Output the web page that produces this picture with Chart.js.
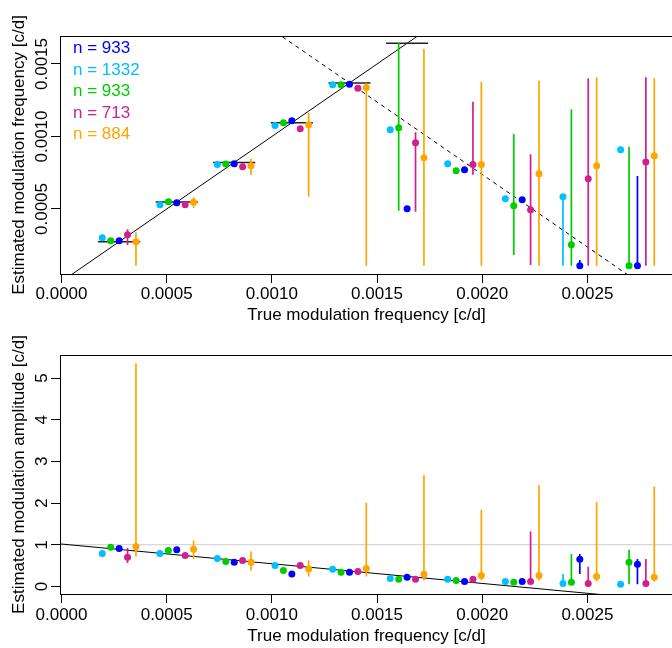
<!DOCTYPE html>
<html>
<head>
<meta charset="utf-8">
<script src="https://cdn.jsdelivr.net/npm/chart.js@4"></script>
<style>
  body { margin: 0; background: #fff; overflow: hidden; }
  canvas { display: block; }
</style>
</head>
<body>
<canvas id="freqChart" width="677" height="330"></canvas>
<canvas id="ampChart" width="677" height="318"></canvas>
<script>
// true modulation frequencies (10, 5, 3.3, 2.5 ... yr periods)
const trueFreq = [0.000274, 0.000548, 0.000821, 0.001095, 0.001369, 0.001643, 0.001916, 0.002190, 0.002464, 0.002738];
const sampleSizes = [933, 1332, 933, 713, 884];
const seriesColors = ['#0000ff', '#00bfff', '#00cd00', '#d02090', '#ffa500'];
const seriesOffset = [0, -0.00008, -0.00004, 0.00004, 0.00008];
const aliasSum = 0.002738;

const xTicks = [0, 0.0005, 0.0010, 0.0015, 0.0020, 0.0025];
const freqTicks = [0.0005, 0.0010, 0.0015];
const ampTicks = [0, 1, 2, 3, 4, 5];

// rows: blue, cyan, green, magenta, orange
const freqEst = [
  [0.000281, 0.000543, 0.000812, 0.001109, 0.001360, 0.000502, 0.000771, 0.000564, 0.000109, 0.000109],
  [0.000302, 0.000530, 0.000806, 0.001075, 0.001357, 0.001047, 0.000812, 0.000571, 0.000585, 0.000909],
  [0.000281, 0.000550, 0.000810, 0.001095, 0.001357, 0.001061, 0.000764, 0.000523, 0.000253, 0.000109],
  [0.000323, 0.000530, 0.000792, 0.001054, 0.001332, 0.000957, 0.000806, 0.000495, 0.000709, 0.000824],
  [0.000274, 0.000546, 0.000799, 0.001081, 0.001337, 0.000854, 0.000806, 0.000743, 0.000799, 0.000868]
];
const freqLo = [
  [null, null, null, null, null, null, null, null, 0.000109, 0.000109],
  [null, null, null, null, null, null, null, null, 0.000109, 0.000890],
  [null, null, null, null, null, 0.000488, 0.000750, 0.000183, 0.000109, 0.000109],
  [0.000252, null, null, null, null, 0.000481, 0.000737, 0.000114, 0.000109, 0.000109],
  [0.000109, 0.000506, 0.000734, 0.000585, 0.000109, 0.000109, 0.000109, 0.000109, 0.000109, 0.000109]
];
const freqHi = [
  [null, null, null, null, null, null, null, null, 0.000148, 0.000728],
  [null, null, null, null, null, null, null, null, 0.000585, 0.000930],
  [null, null, null, null, null, 0.001643, 0.000780, 0.001017, 0.001188, 0.000930],
  [0.000360, null, null, null, null, 0.001029, 0.001240, 0.000877, 0.001401, 0.001408],
  [0.000339, 0.000581, 0.000849, 0.001160, 0.001367, 0.001603, 0.001378, 0.001385, 0.001408, 0.001401]
];

const ampEst = [
  [0.91, 0.88, 0.58, 0.30, 0.34, 0.22, 0.12, 0.12, 0.65, 0.53],
  [0.79, 0.79, 0.67, 0.50, 0.41, 0.19, 0.17, 0.12, 0.07, 0.05],
  [0.94, 0.86, 0.60, 0.38, 0.34, 0.17, 0.14, 0.10, 0.10, 0.58],
  [0.70, 0.74, 0.62, 0.50, 0.36, 0.17, 0.17, 0.12, 0.07, 0.07],
  [0.96, 0.89, 0.58, 0.42, 0.43, 0.29, 0.26, 0.26, 0.24, 0.22]
];
const ampLo = [
  [null, null, null, null, null, null, null, null, 0.30, 0.05],
  [null, null, null, null, null, null, null, null, 0.07, null],
  [null, null, null, null, null, null, null, null, 0.10, 0.05],
  [0.56, null, null, null, null, null, null, 0.12, 0.07, 0.07],
  [0.72, 0.66, 0.38, 0.24, 0.24, 0.14, 0.14, 0.14, 0.12, 0.12]
];
const ampHi = [
  [null, null, null, null, null, null, null, null, 0.78, 0.66],
  [null, null, null, null, null, null, null, null, 0.30, null],
  [null, null, null, null, null, null, null, null, 0.78, 0.88],
  [0.92, null, null, null, null, null, null, 1.32, 0.47, 0.66],
  [5.35, 1.10, 0.84, 0.62, 2.01, 2.67, 1.84, 2.43, 2.02, 2.40]
];

// amplitude attenuation line
const attenX = [-0.0001, 0.0026];
const attenY = [1.064, -0.212];

const FONT = '"Liberation Sans", Arial, sans-serif';
Chart.defaults.font.family = FONT;
Chart.defaults.font.size = 17;
Chart.defaults.color = '#000';

function pointsFor(est, s) {
  return trueFreq.map((f, i) => ({ x: f + seriesOffset[s], y: est[i] }));
}

function barsFor(lo, hi, s) {
  return trueFreq.flatMap((f, i) => {
    if (lo[i] == null) return [];
    const x = f + seriesOffset[s];
    return [{ x, y: lo[i] }, { x, y: hi[i] }, { x, y: null }];
  });
}

function seriesSets(est, lo, hi) {
  const sets = [];
  seriesColors.forEach((c, s) => {
    sets.push({
      data: pointsFor(est[s], s), showLine: false, order: 0,
      pointRadius: 3.5, pointBackgroundColor: c, pointBorderWidth: 0
    });
    sets.push({
      data: barsFor(lo[s], hi[s], s), showLine: true, spanGaps: false, order: 1,
      borderColor: c, borderWidth: 1.7, pointRadius: 0
    });
  });
  return sets;
}

const frame = {
  id: 'frame',
  afterDraw(chart, args, opts) {
    const { ctx, chartArea: a } = chart;
    const y = chart.scales.y;
    ctx.save();
    ctx.strokeStyle = '#000';
    ctx.lineWidth = 1;
    ctx.strokeRect(Math.round(a.left) + 0.5, Math.round(a.top) + 0.5, a.right - a.left + 4, Math.round(a.bottom - a.top));
    ctx.font = '17px ' + FONT;
    ctx.fillStyle = '#000';
    ctx.textAlign = 'center';
    ctx.textBaseline = 'alphabetic';
    y.ticks.forEach(t => {
      ctx.save();
      ctx.translate(46.5, y.getPixelForValue(t.value));
      ctx.rotate(-Math.PI / 2);
      ctx.fillText(t.value.toFixed(opts.digits), 0, 0);
      ctx.restore();
    });
    if (opts.legend) {
      ctx.textAlign = 'left';
      ctx.textBaseline = 'middle';
      sampleSizes.forEach((n, i) => {
        ctx.fillStyle = seriesColors[i];
        ctx.fillText('n = ' + n, 73, 48.5 + i * 21.5);
      });
    }
    ctx.restore();
  }
};

function axes(yMin, yMax, yTicks, yTitle, xHeight, labelPad, titlePad) {
  return {
    x: {
      type: 'linear', min: -0.0000071, max: 0.002907,
      afterBuildTicks: s => { s.ticks = xTicks.map(v => ({ value: v })); },
      afterFit: s => { s.height = xHeight; s.paddingLeft = 0; s.paddingRight = 0; },
      ticks: { padding: labelPad, maxRotation: 0, callback: v => v.toFixed(4) },
      grid: { drawOnChartArea: false, drawTicks: true, tickLength: 9, color: '#000' },
      border: { display: false },
      title: { display: true, text: 'True modulation frequency [c/d]', padding: { top: 0, bottom: titlePad } }
    },
    y: {
      type: 'linear', min: yMin, max: yMax,
      afterBuildTicks: s => { s.ticks = yTicks.map(v => ({ value: v })); },
      afterFit: s => { s.width = 60; s.paddingTop = 0; s.paddingBottom = 0; },
      ticks: { display: false },
      grid: { drawOnChartArea: false, drawTicks: true, tickLength: 9, color: '#000' },
      border: { display: false },
      title: { display: true, text: yTitle, padding: { top: 9, bottom: 9 } }
    }
  };
}

const baseOptions = {
  responsive: false,
  animation: false,
  devicePixelRatio: 1,
  plugins: { legend: { display: false }, tooltip: { enabled: false } }
};

// top panel: estimated vs true frequency
const freqSets = seriesSets(freqEst, freqLo, freqHi);
freqSets.push({
  data: trueFreq.flatMap(f => [{ x: f - 0.0001, y: f }, { x: f + 0.0001, y: f }, { x: f, y: null }]),
  showLine: true, spanGaps: false, order: 2, borderColor: '#222', borderWidth: 1.5, pointRadius: 0
});
freqSets.push({
  data: [{ x: 0, y: 0 }, { x: 0.003, y: 0.003 }],
  showLine: true, order: 3, borderColor: '#000', borderWidth: 1, pointRadius: 0
});
freqSets.push({
  data: [{ x: 0.0008, y: aliasSum - 0.0008 }, { x: 0.0029, y: aliasSum - 0.0029 }],
  showLine: true, order: 3, borderColor: '#000', borderWidth: 1, borderDash: [4, 4], pointRadius: 0
});

new Chart(document.getElementById('freqChart'), {
  type: 'scatter',
  data: { datasets: freqSets },
  options: {
    ...baseOptions,
    layout: { padding: { top: 36, left: 0, right: 0, bottom: 0 } },
    scales: axes(0.0000517, 0.001693, freqTicks, 'Estimated modulation frequency [c/d]', 56, 1, 4),
    plugins: { ...baseOptions.plugins, frame: { digits: 4, legend: true } }
  },
  plugins: [frame]
});

// bottom panel: estimated amplitude
const ampSets = seriesSets(ampEst, ampLo, ampHi);
ampSets.push({
  data: [{ x: -0.0001, y: 1 }, { x: 0.003, y: 1 }],
  showLine: true, order: 4, borderColor: '#cccccc', borderWidth: 1, pointRadius: 0
});
ampSets.push({
  data: attenX.map((x, i) => ({ x, y: attenY[i] })),
  showLine: true, order: 3, borderColor: '#000', borderWidth: 1, pointRadius: 0
});

new Chart(document.getElementById('ampChart'), {
  type: 'scatter',
  data: { datasets: ampSets },
  options: {
    ...baseOptions,
    layout: { padding: { top: 25, left: 0, right: 0, bottom: 0 } },
    scales: axes(-0.182, 5.553, ampTicks, 'Estimated modulation amplitude [c/d]', 54, 2, 1),
    plugins: { ...baseOptions.plugins, frame: { digits: 0, legend: false } }
  },
  plugins: [frame]
});
</script>
</body>
</html>
